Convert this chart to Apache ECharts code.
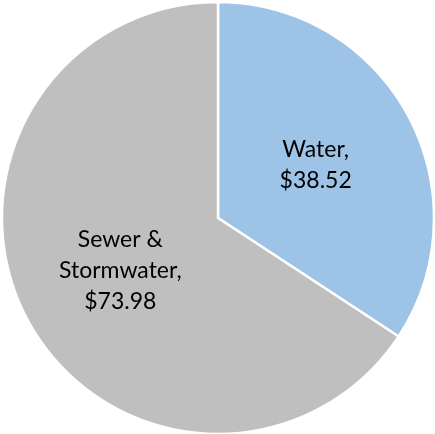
<!DOCTYPE html>
<html>
<head>
<meta charset="utf-8">
<script src="https://cdn.jsdelivr.net/npm/echarts@6/dist/echarts.min.js"></script>
<style>
  html, body { margin: 0; padding: 0; background: #fff; }
  #chart { width: 435px; height: 434px; }
</style>
</head>
<body>
<div id="chart"></div>
<script>
const categories = ['Water', 'Sewer & Stormwater']
const labelNames = ['Water,', 'Sewer &\nStormwater,']
const values = [38.52, 73.98]
const colors = ['#9DC3E6', '#BFBFBF']

const chart = echarts.init(document.getElementById('chart'))
const option = {
  animation: false,
  series: [
    {
      type: 'pie',
      center: [218, 218],
      radius: [0, 216],
      startAngle: 90,
      clockwise: true,
      label: {
        show: true,
        position: 'inner',
        fontFamily: 'Lato',
        fontSize: 23,
        lineHeight: 31,
        color: '#000',
        formatter: function (p) {
          return labelNames[p.dataIndex] + '\n$' + p.value.toFixed(2)
        }
      },
      itemStyle: {
        borderColor: '#fff',
        borderWidth: 2.5
      },
      emphasis: { disabled: true },
      data: categories.map((c, i) => ({
        name: c,
        value: values[i],
        itemStyle: { color: colors[i] }
      }))
    }
  ]
}
chart.setOption(option)
</script>
</body>
</html>
